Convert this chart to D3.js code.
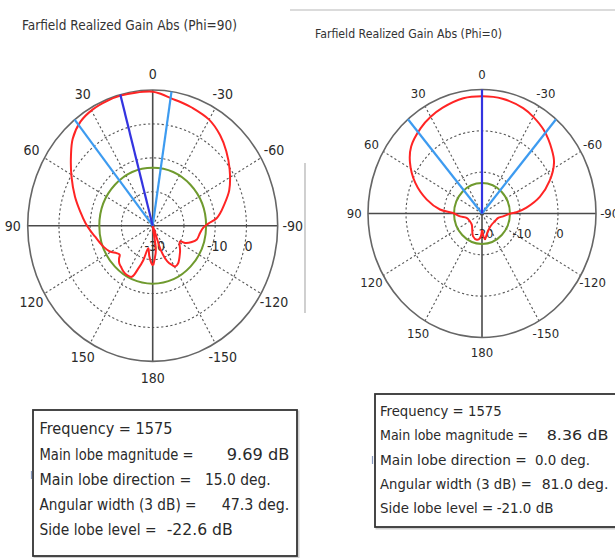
<!DOCTYPE html>
<html><head><meta charset="utf-8">
<script src="https://cdn.jsdelivr.net/npm/d3@7"></script>
<style>body{margin:0;background:#fff}svg{display:block}</style>
</head><body>
<svg id="c" width="615" height="558"></svg>
<script>
// ---------------- data ----------------
const angleTicks = [0, 30, 60, 90, 120, 150, 180, -150, -120, -90, -60, -30];

// Phi = 90 cut (theta in degrees, positive = counter-clockwise / left)
const phi90Theta = [-179,-172,-165,-160,-156,-152,-149,-144,-131,-118,-116,-111,-106,-98,-92,-88,-84,-80,-76,-67,-56,-47,-39,-30,-20,-14,-9,-4,0,8,15,21,29,37,45,52,61,71,80,88,95,100,106,111,119,125,129,132,136,140,145,150,156,160,163.5,168,173,178,180];
const phi90Gain  = [-18.4,-22.8,-30,-22,-18.5,-16.9,-16,-16.2,-18.4,-20.1,-18.4,-16.6,-15.3,-14.7,-13.8,-12.2,-9.5,-8,-6.7,-3.4,-0.3,2.2,4.3,6.1,7.0,7.5,8.0,8.9,9.5,9.6,9.69,9.6,9.3,8.4,6.2,3.2,-0.3,-3.7,-6.5,-8.5,-10.2,-11.3,-12.3,-13,-14.3,-15.9,-16.4,-15.5,-14.6,-14.2,-13.6,-13.3,-13.5,-16.6,-19.4,-23.2,-21,-18.9,-18.4];

// Phi = 0 cut
const phi0Theta = [-180,-173,-166,-150,-136,-118,-104,-97,-90,-88,-83,-75,-66,-57,-50,-39,-30,-23,-11,0,10,22,30,38,49,57,67,77,85,89,97,105,121,135,157,168,175,180];
const phi0Gain  = [-16,-13.7,-14.8,-16,-16.3,-16.1,-15.6,-14.4,-12.5,-10.9,-8.2,-4.2,-0.5,2.6,4,5.9,7.0,7.7,8.3,8.36,8.3,7.6,7.0,6.2,4.7,2.6,-0.9,-5.1,-8.9,-12.4,-14.2,-15.8,-16.3,-16.2,-14,-13.5,-14,-16];

const titles = ["Farfield Realized Gain Abs (Phi=90)", "Farfield Realized Gain Abs (Phi=0)"];
const radialDomains = [[-30, 10], [-20, 10]];
const ringValues = [[-20, -10, 0], [-10, 0]];
const ringLabelValues = [[-30, -10, 0], [-20, -10, 0]];
const mainLobeMag = [9.69, 8.36];
const mainLobeDir = [15.0, 0.0];
const beamWidth = [47.3, 81.0];
const sideLobeLevel = [-22.6, -21.0];
const infoLabels = ["Frequency = 1575", "Main lobe magnitude =", "Main lobe direction =", "Angular width (3 dB) =", "Side lobe level ="];
const infoValues = [["", "9.69 dB", "15.0 deg.", "47.3 deg.", "-22.6 dB"],
                    ["", "8.36 dB", "0.0 deg.", "81.0 deg.", "-21.0 dB"]];

// ---------------- layout ----------------
const svg = d3.select("#c");
const FONT = "'DejaVu Sans Condensed','Liberation Sans Narrow','DejaVu Sans',sans-serif";

const layouts = [
  {cx:152.7, cy:225.7, rx:125, ry:135.7, fs:14,
   title:{x:22, y:30, w:215, fs:14},
   box:{x:33, y:410, w:264, h:146, tx:39.5, ys:[434,460,485,510,535], fs:15,
        lw:[133,154,152,157,117], vx:[0,226.7,205,221.7,166.7], vw:[0,62.6,65.7,67.6,66]}},
  {cx:482, cy:213.5, rx:114, ry:124, fs:13,
   title:{x:315, y:38, w:187, fs:13},
   box:{x:375, y:394, w:245, h:133, tx:380, ys:[416,440,464.5,488.5,513], fs:13.5,
        lw:[121.7,148,146.7,151.7,113.3], vx:[0,546.7,535,541.7,496.7], vw:[0,61.7,55,66.7,56.7]}}
];

const series = [
  {theta: phi90Theta, gain: phi90Gain},
  {theta: phi0Theta, gain: phi0Gain}
];

// decorative separators
svg.append("line").attr("x1",290).attr("x2",615).attr("y1",10).attr("y2",10)
   .attr("stroke","#cfcfcf").attr("stroke-width",1.5);
svg.append("line").attr("x1",305).attr("x2",305).attr("y1",163).attr("y2",313)
   .attr("stroke","#b0b0b0").attr("stroke-width",1.2);

layouts.forEach((L, i) => {
  const g = svg.append("g");
  const rs = d3.scaleLinear().domain(radialDomains[i]).range([0,1]).clamp(true);
  const pt = (th, r) => {
    const a = th * Math.PI / 180;
    return [L.cx - L.rx * r * Math.sin(a), L.cy - L.ry * r * Math.cos(a)];
  };

  // title
  g.append("text").attr("x", L.title.x).attr("y", L.title.y)
   .attr("font-family", FONT).attr("font-size", L.title.fs).attr("fill","#333")
   .attr("textLength", L.title.w).attr("lengthAdjust","spacingAndGlyphs")
   .text(titles[i]);

  // dashed rings
  g.selectAll(".ring").data(ringValues[i]).join("ellipse")
   .attr("cx", L.cx).attr("cy", L.cy)
   .attr("rx", d => L.rx * rs(d)).attr("ry", d => L.ry * rs(d))
   .attr("fill","none").attr("stroke","#555").attr("stroke-width",1.1)
   .attr("stroke-dasharray","2.2,2.4");

  // dashed spokes
  g.selectAll(".spoke").data(angleTicks.filter(a => a % 90 !== 0)).join("line")
   .attr("x1", L.cx).attr("y1", L.cy)
   .attr("x2", d => pt(d,1)[0]).attr("y2", d => pt(d,1)[1])
   .attr("stroke","#555").attr("stroke-width",1.1).attr("stroke-dasharray","2.2,2.4");

  // solid axes
  g.selectAll(".axis").data([0, 90]).join("line")
   .attr("x1", d => pt(d,1)[0]).attr("y1", d => pt(d,1)[1])
   .attr("x2", d => pt(d+180,1)[0]).attr("y2", d => pt(d+180,1)[1])
   .attr("stroke","#4a4a4a").attr("stroke-width",1.6);

  // outer circle
  g.append("ellipse").attr("cx",L.cx).attr("cy",L.cy).attr("rx",L.rx).attr("ry",L.ry)
   .attr("fill","none").attr("stroke","#666").attr("stroke-width",1.6);

  // angle labels
  g.selectAll(".alab").data(angleTicks).join("text")
   .attr("x", d => pt(d,1.12)[0]).attr("y", d => pt(d,1.12)[1])
   .attr("text-anchor","middle").attr("dominant-baseline","central")
   .attr("font-family", FONT).attr("font-size", L.fs).attr("fill","#2a2a2a")
   .text(d => d);

  // side lobe level circle (green)
  const sl = mainLobeMag[i] + sideLobeLevel[i];
  g.append("ellipse").attr("cx",L.cx).attr("cy",L.cy)
   .attr("rx", L.rx * rs(sl)).attr("ry", L.ry * rs(sl))
   .attr("fill","none").attr("stroke","#6f9a2e").attr("stroke-width",2);

  // ring labels
  g.selectAll(".rlab").data(ringLabelValues[i]).join("text")
   .attr("x", d => L.cx + L.rx * rs(d) + 2).attr("y", L.cy + 20)
   .attr("text-anchor","middle").attr("dominant-baseline","central")
   .attr("font-family", FONT).attr("font-size", L.fs).attr("fill","#2a2a2a")
   .text(d => d);

  // pattern curve
  const pts = series[i].theta.map((t, k) => ({t, v: series[i].gain[k]}));
  pts.push(pts[0]);
  const line = d3.line().x(d => pt(d.t, rs(d.v))[0]).y(d => pt(d.t, rs(d.v))[1])
    .curve(d3.curveCatmullRom.alpha(0.5));
  g.append("path").attr("d", line(pts)).attr("fill","none")
   .attr("stroke","#ff2424").attr("stroke-width",2).attr("stroke-linejoin","round");

  // beam width lines (light blue) and main lobe direction (dark blue)
  const half = beamWidth[i] / 2;
  g.selectAll(".bw").data([mainLobeDir[i] - half, mainLobeDir[i] + half]).join("line")
   .attr("x1", L.cx).attr("y1", L.cy)
   .attr("x2", d => pt(d,1)[0]).attr("y2", d => pt(d,1)[1])
   .attr("stroke","#3d9bf0").attr("stroke-width",2.2);
  g.append("line").attr("x1",L.cx).attr("y1",L.cy)
   .attr("x2", pt(mainLobeDir[i],1)[0]).attr("y2", pt(mainLobeDir[i],1)[1])
   .attr("stroke","#3434e0").attr("stroke-width",2.2);

  // info box
  const B = L.box;
  g.append("rect").attr("x",B.x+1.5).attr("y",B.y+1.5).attr("width",B.w).attr("height",B.h)
   .attr("fill","none").attr("stroke","#cfcfcf").attr("stroke-width",2);
  g.append("rect").attr("x",B.x).attr("y",B.y).attr("width",B.w).attr("height",B.h)
   .attr("fill","#fff").attr("stroke","#333").attr("stroke-width",1.8);
  infoLabels.forEach((lab, k) => {
    g.append("text").attr("x", B.tx).attr("y", B.ys[k])
     .attr("font-family", FONT).attr("font-size", B.fs).attr("fill","#2a2a2a")
     .attr("textLength", B.lw[k]).attr("lengthAdjust","spacingAndGlyphs").text(lab);
    if (infoValues[i][k]) {
      g.append("text").attr("x", B.vx[k]).attr("y", B.ys[k])
       .attr("font-family", FONT).attr("font-size", B.fs).attr("fill","#2a2a2a")
       .attr("textLength", B.vw[k]).attr("lengthAdjust","spacingAndGlyphs").text(infoValues[i][k]);
    }
  });
});

// small stray marks beside the boxes
svg.append("line").attr("x1",31.5).attr("x2",31.5).attr("y1",471).attr("y2",479)
   .attr("stroke","#8a9cc0").attr("stroke-width",1.2);
svg.append("line").attr("x1",372.5).attr("x2",372.5).attr("y1",456).attr("y2",464)
   .attr("stroke","#8a9cc0").attr("stroke-width",1.2);
</script>
</body></html>
